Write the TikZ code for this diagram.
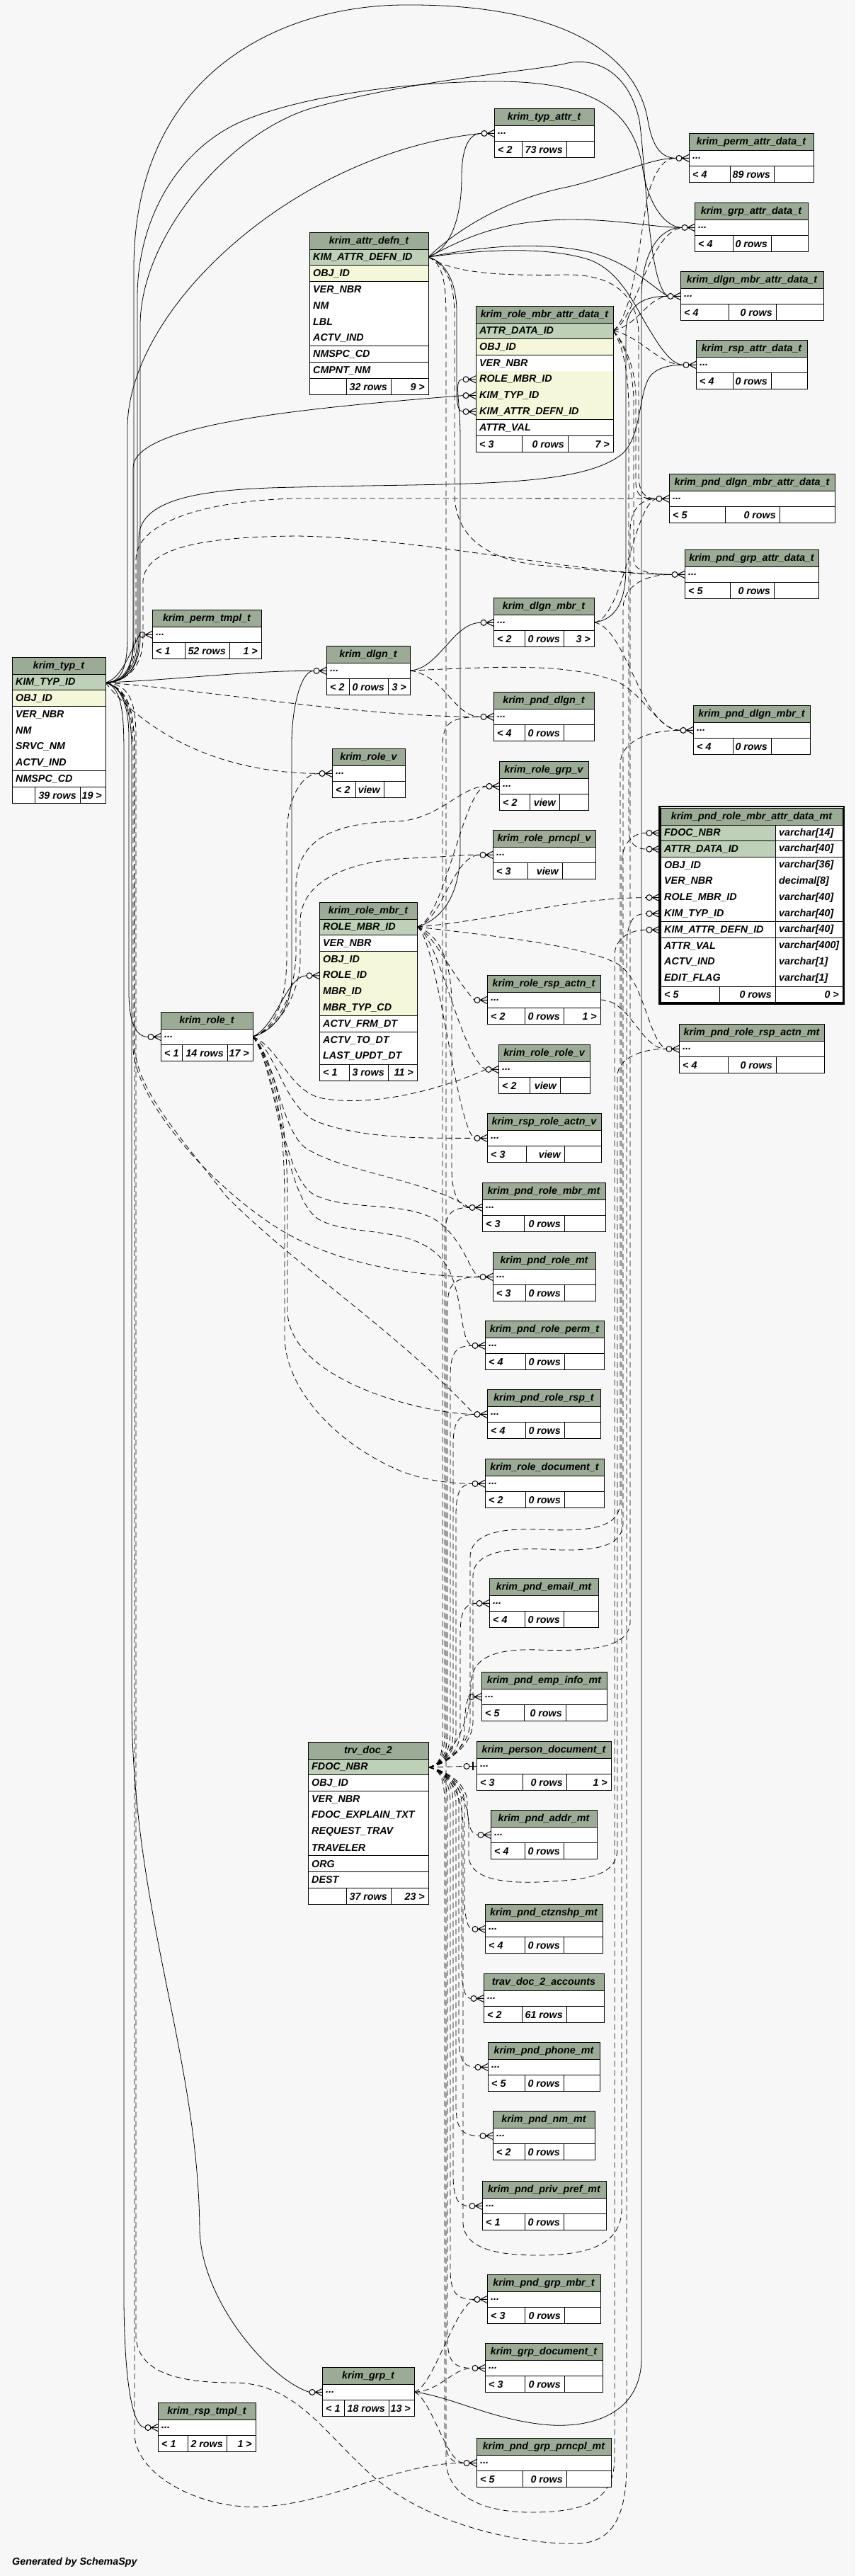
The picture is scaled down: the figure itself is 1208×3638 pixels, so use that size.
\documentclass[tikz,border=0pt]{standalone}
\usepackage{fontspec}
\setmainfont{Liberation Sans}
\definecolor{bgc}{HTML}{F7F7F7}
\definecolor{hdr}{HTML}{9BAB96}
\definecolor{pkc}{HTML}{BED1B8}
\definecolor{idxc}{HTML}{F4F7DA}
\tikzset{
 fk/.style={line width=0.8pt},
 imp/.style={line width=0.8pt, dash pattern=on 8pt off 5pt},
 cell/.style={draw, line width=1pt},
 ttl/.style={font=\bfseries\itshape\fontsize{14.3}{16}\selectfont, anchor=center, inner sep=0pt},
 txt/.style={font=\bfseries\itshape\fontsize{14.3}{16}\selectfont, anchor=west, inner sep=0pt},
 txr/.style={font=\bfseries\itshape\fontsize{14.3}{16}\selectfont, anchor=east, inner sep=0pt},
 mkline/.style={line width=1pt}
}
\newcommand\footrow[8]{%
 \pgfmathsetmacro\fa{\fy}\pgfmathsetmacro\fb{\fy+22.8}\pgfmathsetmacro\xe{#2+#3}
 \fill[white] (#2,\fa) rectangle (\xe,\fb);
 \draw[cell] (#2,\fa) rectangle (\xe,\fb);
 \draw[cell] (#4,\fa) -- (#4,\fb) (#5,\fa) -- (#5,\fb);
 \node[txt] (#1-f1) at (#2+5,\fa+11.8) {#6};
 \node[txr] (#1-f2) at (#5-5,\fa+11.8) {#7};
 \node[txr] (#1-f3) at (\xe-5,\fa+11.8) {#8};
}
\newcommand\tb[9]{%
 \pgfmathsetmacro\xe{#2+#4}
 \fill[hdr] (#2,#3) rectangle (\xe,#3+24);
 \fill[white] (#2,#3+24) rectangle (\xe,#3+46.8);
 \draw[cell] (#2,#3) rectangle (\xe,#3+46.8);
 \draw[cell] (#2,#3+24) -- (\xe,#3+24);
 \node[ttl] (#1) at ({#2+#4/2},#3+12.5) {\detokenize{#1}};
 \node[txt] (#1-r) at (#2+5,#3+35.4) {...};
 \pgfmathsetmacro\fy{#3+46.8}\xdef\fy{\fy}
 \footrow{#1}{#2}{#4}{#5}{#6}{#7}{#8}{#9}
}
\newcommand\bigtb[5]{%
 \pgfmathsetmacro\xe{#2+#4}
 \fill[hdr] (#2,#3) rectangle (\xe,#3+24);
 \node[ttl] (#1) at ({#2+#4/2},#3+12.5) {\detokenize{#1}};
 \foreach \t/\n [count=\i] in {#5} {
   \pgfmathsetmacro\ra{#3+24+(\i-1)*22.8}
   \pgfmathsetmacro\rb{#3+24+\i*22.8}
   \fill[fill=\t] (#2,\ra) rectangle (\xe,\rb);
   \draw[cell] (#2,\rb) -- (\xe,\rb);
   \node[txt] (#1-\i) at (#2+5,{(\ra+\rb)/2}) {\n};
   \xdef\fy{\rb}
 }
 \draw[cell] (#2,#3) rectangle (\xe,\fy);
 \draw[cell] (#2,#3+24) -- (\xe,#3+24);
}
\newcommand\mk[1]{%
 \draw[mkline] ([xshift=4pt]#1) circle[radius=4pt];
 \draw[mkline] ([xshift=8pt]#1) -- ([xshift=18pt,yshift=5pt]#1) ([xshift=8pt]#1) -- ([xshift=18pt]#1) ([xshift=8pt]#1) -- ([xshift=18pt,yshift=-5pt]#1);
}
\newcommand\one[1]{%
 \draw[mkline] ([xshift=4pt]#1) circle[radius=4pt];
 \draw[mkline] ([xshift=8pt]#1) -- ([xshift=18pt]#1);
 \draw[line width=1.6pt] ([xshift=13pt,yshift=6pt]#1) -- ([xshift=13pt,yshift=-6pt]#1);
}
\newcommand\tup[3]{%
 \pgfmathsetmacro\ua{#3+45}\pgfmathsetmacro\ub{#3+12}\pgfmathsetmacro\uc{#1+6}
 \draw[imp] (trv-o) .. controls (622,2494) and (#1,2478) .. (#1,2445) -- (#1,\ua) .. controls (#1,\ub) and (\uc,#3) .. (#2);
}
\newcommand\tdn[3]{%
 \pgfmathsetmacro\ua{#3-45}\pgfmathsetmacro\ub{#3-12}\pgfmathsetmacro\uc{#1+6}
 \draw[imp] (trv-o) .. controls (622,2498) and (#1,2514) .. (#1,2547) -- (#1,\ua) .. controls (#1,\ub) and (\uc,#3) .. (#2);
}
\begin{document}
\begin{tikzpicture}[x=1pt,y=-1pt]
\useasboundingbox (0,0) rectangle (1208,3638);
\fill[bgc] (0,0) rectangle (1208,3638);

% ---------- anchors ----------
\coordinate (typ-o) at (149,964);
\coordinate (adef-o) at (605,363);
\coordinate (rmad-o) at (866,467);
\coordinate (dlgn-o) at (579,947);
\coordinate (dmbr-o) at (839,879);
\coordinate (role-o) at (357,1464);
\coordinate (rmbr-o) at (589,1309);
\coordinate (trv-o) at (605,2496);
\coordinate (grp-o) at (585,3378);
\coordinate (rra-o) at (848,1412);

\coordinate (ta) at (680,188.4);
\coordinate (pa) at (955,223.4);
\coordinate (ga) at (963,321.4);
\coordinate (dma) at (943,418.4);
\coordinate (ra) at (965,515.4);
\coordinate (rm-rmid) at (654,535.8);
\coordinate (rm-typ) at (654,558.6);
\coordinate (rm-adef) at (654,581.4);
\coordinate (pdma) at (927,704.4);
\coordinate (pga) at (949,811.4);
\coordinate (dm) at (679,879.4);
\coordinate (dl) at (443,947.4);
\coordinate (pd) at (679,1012.4);
\coordinate (pdm) at (961,1031.4);
\coordinate (rv) at (451,1092.4);
\coordinate (rgv) at (687,1110.4);
\coordinate (rpv) at (678,1207.4);
\coordinate (pr-fdoc) at (913,1176.4);
\coordinate (pr-attr) at (913,1199.2);
\coordinate (pr-rmid) at (913,1267.6);
\coordinate (pr-typ) at (913,1290.4);
\coordinate (pr-adef) at (913,1313.2);
\coordinate (rmb-role) at (433,1377.8);
\coordinate (rra) at (670,1412.4);
\coordinate (prra) at (941,1481.4);
\coordinate (rrv) at (686,1510.4);
\coordinate (rrav) at (670,1607.4);
\coordinate (prm) at (663,1705.4);
\coordinate (pro) at (678,1803.4);
\coordinate (prp) at (667,1900.4);
\coordinate (prr) at (670,1997.4);
\coordinate (rdoc) at (667,2095.4);
\coordinate (pem) at (673,2264.4);
\coordinate (pei) at (662,2396.4);
\coordinate (pdoc) at (655,2494.4);
\coordinate (pad) at (675,2591.4);
\coordinate (pct) at (667,2724.4);
\coordinate (tda) at (665,2822.4);
\coordinate (pph) at (671,2919.4);
\coordinate (pnm) at (678,3016.4);
\coordinate (ppp) at (663,3115.4);
\coordinate (pgm) at (670,3247.4);
\coordinate (gdoc) at (667,3344.4);
\coordinate (gt) at (437,3378.4);
\coordinate (rst) at (205,3428.4);
\coordinate (pgp) at (655,3478.4);
\coordinate (ptm) at (197,896.4);
\coordinate (rt) at (209,1464.4);

% ---------- connectors: krim_typ_t ----------
\draw[fk] (typ-o) .. controls (170,964) and (180,945) .. (180,900) -- (180,600) .. controls (185,430) and (420,215) .. (ta);
\draw[fk] (typ-o) .. controls (172,964) and (189,945) .. (189,900) -- (189,380) .. controls (189,100) and (400,8) .. (570,7) .. controls (800,5) and (900,80) .. (915,170) .. controls (922,210) and (935,223) .. (pa);
\draw[fk] (typ-o) .. controls (174,964) and (194,945) .. (194,900) -- (194,420) .. controls (194,300) and (260,200) .. (355,166) .. controls (450,130) and (600,115) .. (700,115) .. controls (830,115) and (895,150) .. (908,240) .. controls (916,290) and (940,321) .. (ga);
\draw[fk] (typ-o) .. controls (176,964) and (198,945) .. (198,900) -- (198,460) .. controls (198,330) and (330,180) .. (450,150) .. controls (600,110) and (760,100) .. (802,89) .. controls (850,80) and (890,110) .. (903,170) .. controls (912,230) and (915,400) .. (dma);
\draw[fk] (typ-o) .. controls (178,964) and (196,945) .. (196,900) -- (196,760) .. controls (196,700) and (300,690) .. (420,688) .. controls (650,682) and (820,690) .. (880,640) .. controls (910,610) and (900,540) .. (925,525) .. controls (935,518) and (950,515) .. (ra);
\draw[fk] (typ-o) .. controls (178,964) and (188,945) .. (188,900) -- (188,660) .. controls (190,600) and (420,577) .. (rm-typ);
\draw[imp] (typ-o) .. controls (180,962) and (192,940) .. (192,890) -- (192,790) .. controls (192,735) and (300,706) .. (420,704) .. controls (600,704) and (800,704) .. (pdma);
\draw[imp] (typ-o) .. controls (182,962) and (202,940) .. (202,900) -- (202,820) .. controls (206,770) and (300,758) .. (420,757) .. controls (600,760) and (820,811) .. (pga);
\draw[imp] (typ-o) .. controls (182,966) and (192,990) .. (192,1040) -- (192,3300) .. controls (195,3350) and (250,3365) .. (330,3365) .. controls (420,3365) and (460,3440) .. (530,3500) .. controls (620,3575) and (760,3595) .. (820,3592) .. controls (870,3588) and (885,3545) .. (885,3480) -- (885,1340) .. controls (885,1300) and (895,1290) .. (pr-typ);
\draw[fk] (typ-o) .. controls (172,958) and (184,920) .. (ptm);
\draw[fk] (typ-o) .. controls (250,960) and (350,947) .. (dl);
\draw[imp] (typ-o) .. controls (300,975) and (500,1012) .. (pd);
\draw[imp] (typ-o) .. controls (185,1010) and (280,1092) .. (rv);
\draw[fk] (typ-o) .. controls (172,968) and (182,1000) .. (182,1040) -- (182,1400) .. controls (182,1445) and (192,1464) .. (rt);
\draw[fk] (typ-o) .. controls (174,970) and (186,1000) .. (186,1060) -- (186,2400) .. controls (186,2700) and (280,2900) .. (282,3150) .. controls (285,3250) and (380,3360) .. (gt);
\draw[fk] (typ-o) .. controls (170,970) and (175,1000) .. (175,1060) -- (175,3250) .. controls (176,3370) and (188,3428) .. (rst);
\draw[imp] (typ-o) .. controls (176,972) and (188,1000) .. (188,1060) -- (188,1480) .. controls (190,1560) and (320,1700) .. (420,1750) .. controls (500,1790) and (600,1803) .. (pro);
\draw[imp] (typ-o) .. controls (178,972) and (190,1000) .. (190,1060) -- (190,1480) .. controls (195,1540) and (250,1600) .. (320,1690) .. controls (420,1790) and (560,1880) .. (prr);
\draw[imp] (typ-o) .. controls (180,972) and (190,1000) .. (190,1060) -- (190,3440) .. controls (195,3500) and (290,3545) .. (370,3540) .. controls (470,3535) and (560,3478) .. (pgp);

% ---------- krim_attr_defn_t ----------
\draw[fk] (adef-o) .. controls (640,350) and (652,300) .. (652,250) .. controls (652,210) and (662,188) .. (ta);
\draw[fk] (adef-o) .. controls (650,320) and (720,280) .. (802,264) .. controls (880,245) and (920,223) .. (pa);
\draw[fk] (adef-o) .. controls (650,340) and (700,312) .. (802,310) .. controls (880,310) and (920,321) .. (ga);
\draw[fk] (adef-o) .. controls (680,348) and (760,340) .. (833,356) .. controls (890,372) and (915,400) .. (dma);
\draw[fk] (adef-o) .. controls (700,350) and (780,350) .. (833,367) .. controls (880,385) and (900,440) .. (920,470) .. controls (935,495) and (950,515) .. (ra);
\draw[fk] (adef-o) .. controls (630,370) and (645,400) .. (645,440) -- (645,550) .. controls (645,575) and (648,581) .. (rm-adef);
\draw[imp] (adef-o) .. controls (640,385) and (700,390) .. (802,388) .. controls (870,388) and (900,420) .. (902,470) -- (902,670) .. controls (902,695) and (910,704) .. (pdma);
\draw[imp] (adef-o) .. controls (632,375) and (642,400) .. (642,450) -- (642,700) .. controls (644,760) and (690,790) .. (760,798) .. controls (850,806) and (900,811) .. (pga);
\draw[imp] (adef-o) .. controls (626,372) and (630,400) .. (630,450) -- (630,3480) .. controls (636,3530) and (690,3548) .. (750,3548) .. controls (830,3548) and (868,3530) .. (868,3470) -- (868,1350) .. controls (868,1325) and (890,1313) .. (pr-adef);

% ---------- krim_role_mbr_attr_data_t ----------
\draw[imp] (rmad-o) .. controls (900,440) and (905,300) .. (920,260) .. controls (930,235) and (940,223) .. (pa);
\draw[imp] (rmad-o) .. controls (900,450) and (915,330) .. (ga);
\draw[imp] (rmad-o) .. controls (900,460) and (915,420) .. (dma);
\draw[imp] (rmad-o) .. controls (905,475) and (930,515) .. (ra);
\draw[imp] (rmad-o) .. controls (880,480) and (898,520) .. (898,560) -- (898,680) .. controls (898,700) and (905,704) .. (pdma);
\draw[imp] (rmad-o) .. controls (880,482) and (895,520) .. (895,570) -- (895,790) .. controls (895,808) and (920,811) .. (pga);
\draw[imp] (rmad-o) .. controls (878,485) and (888,520) .. (888,580) -- (888,1170) .. controls (888,1192) and (898,1199) .. (pr-attr);

% ---------- krim_dlgn_t / krim_dlgn_mbr_t ----------
\draw[fk] (dlgn-o) .. controls (620,945) and (640,879) .. (dm);
\draw[imp] (dlgn-o) .. controls (630,955) and (640,1012) .. (pd);
\draw[imp] (dlgn-o) .. controls (700,942) and (800,935) .. (870,962) .. controls (910,980) and (930,1031) .. (pdm);
\draw[fk] (dmbr-o) .. controls (870,875) and (884,850) .. (884,800) -- (884,470) .. controls (884,430) and (910,418) .. (dma);
\draw[imp] (dmbr-o) .. controls (885,885) and (905,1031) .. (pdm);
\draw[imp] (dmbr-o) .. controls (880,875) and (895,712) .. (pdma);

% ---------- krim_role_t ----------
\draw[fk] (role-o) .. controls (390,1455) and (412,1420) .. (412,1380) -- (412,1050) .. controls (412,1000) and (425,947) .. (dl);
\draw[fk] (role-o) .. controls (390,1450) and (405,1378) .. (rmb-role);
\draw[imp] (role-o) .. controls (395,1450) and (405,1400) .. (405,1350) -- (405,1180) .. controls (405,1130) and (425,1092) .. (rv);
\draw[imp] (role-o) .. controls (395,1452) and (416,1400) .. (418,1350) -- (418,1250) .. controls (420,1180) and (480,1162) .. (560,1160) .. controls (620,1158) and (650,1110) .. (rgv);
\draw[imp] (role-o) .. controls (396,1454) and (422,1400) .. (424,1360) -- (424,1300) .. controls (426,1240) and (500,1215) .. (580,1212) .. controls (630,1210) and (655,1207) .. (rpv);
\draw[imp] (role-o) .. controls (395,1480) and (405,1535) .. (450,1550) .. controls (520,1565) and (620,1540) .. (rrv);
\draw[imp] (role-o) .. controls (392,1485) and (400,1565) .. (450,1585) .. controls (520,1610) and (610,1607) .. (rrav);
\draw[imp] (role-o) .. controls (390,1495) and (395,1590) .. (430,1620) .. controls (480,1655) and (600,1665) .. (prm);
\draw[imp] (role-o) .. controls (390,1500) and (395,1650) .. (440,1685) .. controls (490,1715) and (590,1690) .. (630,1735) .. controls (660,1765) and (665,1800) .. (pro);
\draw[imp] (role-o) .. controls (390,1505) and (400,1690) .. (450,1722) .. controls (500,1750) and (600,1725) .. (635,1795) .. controls (655,1840) and (650,1895) .. (prp);
\draw[imp] (role-o) .. controls (395,1510) and (406,1600) .. (406,1700) -- (406,1850) .. controls (406,1950) and (600,1997) .. (prr);
\draw[imp] (role-o) .. controls (392,1510) and (402,1600) .. (402,1700) -- (402,1890) .. controls (404,1960) and (470,2035) .. (560,2075) .. controls (600,2092) and (640,2095) .. (rdoc);

% ---------- krim_role_mbr_t ----------
\draw[fk] (rmbr-o) .. controls (620,1300) and (650,1270) .. (650,1200) -- (650,620) .. controls (650,560) and (640,536) .. (rm-rmid);
\draw[imp] (rmbr-o) .. controls (612,1318) and (640,1380) .. (rra);
\draw[imp] (rmbr-o) .. controls (700,1300) and (800,1268) .. (pr-rmid);
\draw[imp] (rmbr-o) .. controls (700,1322) and (820,1335) .. (870,1360) .. controls (910,1380) and (915,1470) .. (prra);
\draw[imp] (rmbr-o) .. controls (625,1300) and (640,1207) .. (rpv);
\draw[imp] (rmbr-o) .. controls (628,1300) and (655,1110) .. (rgv);
\draw[imp] (rmbr-o) .. controls (622,1320) and (638,1360) .. (638,1420) -- (638,1650) .. controls (638,1690) and (650,1705) .. (prm);
\draw[imp] (rmbr-o) .. controls (620,1322) and (650,1490) .. (rrv);
\draw[imp] (rmbr-o) .. controls (618,1325) and (644,1590) .. (rrav);
\draw[imp] (rra-o) .. controls (890,1412) and (905,1481) .. (prra);

% ---------- trv_doc_2 ----------
\tup{625}{pd}{1012.4}
\tup{628}{prm}{1705.4}
\tup{632}{pro}{1803.4}
\tup{636}{prp}{1900.4}
\tup{640}{prr}{1997.4}
\tup{644}{rdoc}{2095.4}
\tup{650}{pem}{2264.4}
\tup{656}{pei}{2396.4}
\draw[imp] (trv-o) -- (pdoc);
\tdn{660}{pad}{2591.4}
\tdn{656}{pct}{2724.4}
\tdn{652}{tda}{2822.4}
\tdn{648}{pph}{2919.4}
\tdn{644}{pnm}{3016.4}
\tdn{640}{ppp}{3115.4}
\tdn{636}{pgm}{3247.4}
\tdn{632}{gdoc}{3344.4}
\tdn{628}{pgp}{3478.4}
\draw[imp] (trv-o) .. controls (625,2490) and (664,2470) .. (664,2430) -- (664,2200) .. controls (664,2168) and (700,2158) .. (760,2160) .. controls (830,2163) and (876,2160) .. (876,2120) -- (876,1080) .. controls (876,1045) and (920,1031) .. (pdm);
\draw[imp] (trv-o) .. controls (626,2490) and (668,2470) .. (668,2430) -- (668,2225) .. controls (668,2195) and (710,2185) .. (770,2188) .. controls (840,2192) and (880,2185) .. (880,2150) -- (880,860) .. controls (880,825) and (915,811) .. (pga);
\draw[imp] (trv-o) .. controls (630,2490) and (665,2440) .. (665,2380) .. controls (665,2340) and (700,2328) .. (760,2330) .. controls (840,2333) and (890,2325) .. (890,2290) -- (890,750) .. controls (890,715) and (910,704) .. (pdma);
\draw[imp] (trv-o) .. controls (630,2500) and (662,2530) .. (662,2580) -- (662,2620) .. controls (662,2650) and (700,2660) .. (760,2658) .. controls (830,2655) and (872,2650) .. (872,2610) -- (872,1520) .. controls (872,1495) and (905,1481) .. (prra);
\draw[imp] (trv-o) .. controls (630,2500) and (654,2530) .. (654,2580) -- (654,3140) .. controls (656,3175) and (700,3185) .. (760,3185) .. controls (830,3185) and (878,3170) .. (878,3120) -- (878,1220) .. controls (878,1190) and (895,1176) .. (pr-fdoc);

% ---------- krim_grp_t ----------
\draw[fk] (grp-o) .. controls (640,3385) and (700,3420) .. (780,3425) .. controls (850,3428) and (906,3400) .. (906,3330) -- (906,420) .. controls (906,360) and (930,321) .. (ga);
\draw[imp] (grp-o) .. controls (620,3378) and (640,3344) .. (gdoc);
\draw[imp] (grp-o) .. controls (612,3372) and (640,3260) .. (pgm);
\draw[imp] (grp-o) .. controls (610,3388) and (630,3478) .. (pgp);

% ---------- tables ----------
\tb{krim_typ_attr_t}{698}{153}{141}{737}{800}{< 2}{73 rows}{}
\tb{krim_perm_attr_data_t}{973}{188}{176}{1031}{1093}{< 4}{89 rows}{}
\tb{krim_grp_attr_data_t}{981}{286}{160}{1035}{1089}{< 4}{0 rows}{}
\tb{krim_dlgn_mbr_attr_data_t}{961}{383}{202}{1029}{1096}{< 4}{0 rows}{}
\tb{krim_rsp_attr_data_t}{983}{480}{157}{1035}{1089}{< 4}{0 rows}{}
\tb{krim_pnd_dlgn_mbr_attr_data_t}{945}{669}{234}{1024}{1101}{< 5}{0 rows}{}
\tb{krim_pnd_grp_attr_data_t}{967}{776}{189}{1031}{1093}{< 5}{0 rows}{}
\tb{krim_dlgn_mbr_t}{697}{844}{142}{741}{796}{< 2}{0 rows}{3 >}
\tb{krim_dlgn_t}{461}{912}{118}{493}{548}{< 2}{0 rows}{3 >}
\tb{krim_pnd_dlgn_t}{697}{977}{142}{741}{796}{< 4}{0 rows}{}
\tb{krim_pnd_dlgn_mbr_t}{979}{996}{165}{1035}{1089}{< 4}{0 rows}{}
\tb{krim_role_v}{469}{1057}{103}{502}{542}{< 2}{view}{}
\tb{krim_role_grp_v}{705}{1075}{126}{748}{790}{< 2}{view}{}
\tb{krim_role_prncpl_v}{696}{1172}{145}{745}{794}{< 3}{view}{}
\tb{krim_role_rsp_actn_t}{688}{1377}{160}{741}{796}{< 2}{0 rows}{1 >}
\tb{krim_pnd_role_rsp_actn_mt}{959}{1446}{205}{1028}{1096}{< 4}{0 rows}{}
\tb{krim_role_role_v}{704}{1475}{129}{748}{791}{< 2}{view}{}
\tb{krim_rsp_role_actn_v}{688}{1572}{161}{743}{797}{< 3}{view}{}
\tb{krim_pnd_role_mbr_mt}{681}{1670}{174}{740}{797}{< 3}{0 rows}{}
\tb{krim_pnd_role_mt}{696}{1768}{145}{742}{797}{< 3}{0 rows}{}
\tb{krim_pnd_role_perm_t}{685}{1865}{168}{742}{797}{< 4}{0 rows}{}
\tb{krim_pnd_role_rsp_t}{688}{1962}{160}{742}{797}{< 4}{0 rows}{}
\tb{krim_role_document_t}{685}{2060}{168}{742}{797}{< 2}{0 rows}{}
\tb{krim_pnd_email_mt}{691}{2229}{154}{741}{796}{< 4}{0 rows}{}
\tb{krim_pnd_emp_info_mt}{680}{2361}{177}{740}{799}{< 5}{0 rows}{}
\tb{krim_person_document_t}{673}{2459}{190}{738}{800}{< 3}{0 rows}{1 >}
\tb{krim_pnd_addr_mt}{693}{2556}{150}{741}{796}{< 4}{0 rows}{}
\tb{krim_pnd_ctznshp_mt}{685}{2689}{166}{741}{796}{< 4}{0 rows}{}
\tb{trav_doc_2_accounts}{683}{2787}{170}{737}{800}{< 2}{61 rows}{}
\tb{krim_pnd_phone_mt}{689}{2884}{158}{741}{796}{< 5}{0 rows}{}
\tb{krim_pnd_nm_mt}{696}{2981}{144}{741}{796}{< 2}{0 rows}{}
\tb{krim_pnd_priv_pref_mt}{681}{3080}{175}{741}{796}{< 1}{0 rows}{}
\tb{krim_pnd_grp_mbr_t}{688}{3212}{160}{741}{797}{< 3}{0 rows}{}
\tb{krim_grp_document_t}{685}{3309}{166}{741}{797}{< 3}{0 rows}{}
\tb{krim_pnd_grp_prncpl_mt}{673}{3443}{190}{738}{800}{< 5}{0 rows}{}
\tb{krim_grp_t}{455}{3343}{130}{486}{549}{< 1}{18 rows}{13 >}
\tb{krim_rsp_tmpl_t}{223}{3393}{138}{265}{320}{< 1}{2 rows}{1 >}
\tb{krim_perm_tmpl_t}{215}{861}{154}{261}{324}{< 1}{52 rows}{1 >}
\tb{krim_role_t}{227}{1429}{130}{257}{321}{< 1}{14 rows}{17 >}

\bigtb{krim_typ_t}{17}{928}{132}{pkc/KIM\_TYP\_ID, idxc/OBJ\_ID, white/VER\_NBR, white/NM, white/SRVC\_NM, white/ACTV\_IND, white/NMSPC\_CD}
\footrow{krim_typ_t}{17}{132}{49}{113}{}{39 rows}{19 >}
\bigtb{krim_attr_defn_t}{437}{328}{168}{pkc/KIM\_ATTR\_DEFN\_ID, idxc/OBJ\_ID, white/VER\_NBR, white/NM, white/LBL, white/ACTV\_IND, white/NMSPC\_CD, white/CMPNT\_NM}
\footrow{krim_attr_defn_t}{437}{168}{489}{552}{}{32 rows}{9 >}
\bigtb{krim_role_mbr_attr_data_t}{672}{432}{194}{pkc/ATTR\_DATA\_ID, idxc/OBJ\_ID, white/VER\_NBR, idxc/ROLE\_MBR\_ID, idxc/KIM\_TYP\_ID, idxc/KIM\_ATTR\_DEFN\_ID, white/ATTR\_VAL}
\footrow{krim_role_mbr_attr_data_t}{672}{194}{737}{802}{< 3}{0 rows}{7 >}
\bigtb{krim_role_mbr_t}{451}{1274}{138}{pkc/ROLE\_MBR\_ID, white/VER\_NBR, idxc/OBJ\_ID, idxc/ROLE\_ID, idxc/MBR\_ID, idxc/MBR\_TYP\_CD, white/ACTV\_FRM\_DT, white/ACTV\_TO\_DT, white/LAST\_UPDT\_DT}
\footrow{krim_role_mbr_t}{451}{138}{493}{548}{< 1}{3 rows}{11 >}
\bigtb{trv_doc_2}{435}{2460}{170}{pkc/FDOC\_NBR, white/OBJ\_ID, white/VER\_NBR, white/FDOC\_EXPLAIN\_TXT, white/REQUEST\_TRAV, white/TRAVELER, white/ORG, white/DEST}
\footrow{trv_doc_2}{435}{170}{489}{552}{}{37 rows}{23 >}

% focus table
\fill[hdr] (933,1141) rectangle (1190,1165);
\node[ttl] (krim_pnd_role_mbr_attr_data_mt) at (1061.5,1153.5) {\detokenize{krim_pnd_role_mbr_attr_data_mt}};
\foreach \t/\n/\ty [count=\i] in {pkc/FDOC\_NBR/varchar[14], pkc/ATTR\_DATA\_ID/varchar[40], white/OBJ\_ID/varchar[36], white/VER\_NBR/decimal[8], white/ROLE\_MBR\_ID/varchar[40], white/KIM\_TYP\_ID/varchar[40], white/KIM\_ATTR\_DEFN\_ID/varchar[40], white/ATTR\_VAL/varchar[400], white/ACTV\_IND/varchar[1], white/EDIT\_FLAG/varchar[1]} {
  \pgfmathsetmacro\ra{1165+(\i-1)*22.8}
  \pgfmathsetmacro\rb{1165+\i*22.8}
  \fill[fill=\t] (933,\ra) rectangle (1095,\rb);
  \fill[white] (1095,\ra) rectangle (1190,\rb);
  \draw[cell] (933,\rb) -- (1190,\rb);
  \node[txt] (pf-\i) at (938,{(\ra+\rb)/2}) {\n};
  \node[txt] (pt-\i) at (1100,{(\ra+\rb)/2}) {\ty};
}
\draw[cell] (1095,1165) -- (1095,1393);
\xdef\fy{1393}
\footrow{pfoot}{933}{257}{1016}{1095}{< 5}{0 rows}{0 >}
\draw[cell] (933,1141) rectangle (1190,1415.8);
\draw[cell] (933,1165) -- (1190,1165);
\draw[line width=2.2pt] (931.5,1139.2) rectangle (1191.6,1417.4);

% ---------- markers ----------
\foreach \c in {ta,pa,ga,dma,ra,rm-rmid,rm-typ,rm-adef,pdma,pga,dm,dl,pd,pdm,rv,rgv,rpv,pr-fdoc,pr-attr,pr-rmid,pr-typ,pr-adef,rmb-role,rra,prra,rrv,rrav,prm,pro,prp,prr,rdoc,pem,pei,pad,pct,tda,pph,pnm,ppp,pgm,gdoc,gt,rst,pgp,ptm,rt} {\expandafter\mk\expandafter{\c}}
\one{pdoc}

\node[txt] (gen) at (17,3619) {Generated by SchemaSpy};
\end{tikzpicture}
\end{document}
